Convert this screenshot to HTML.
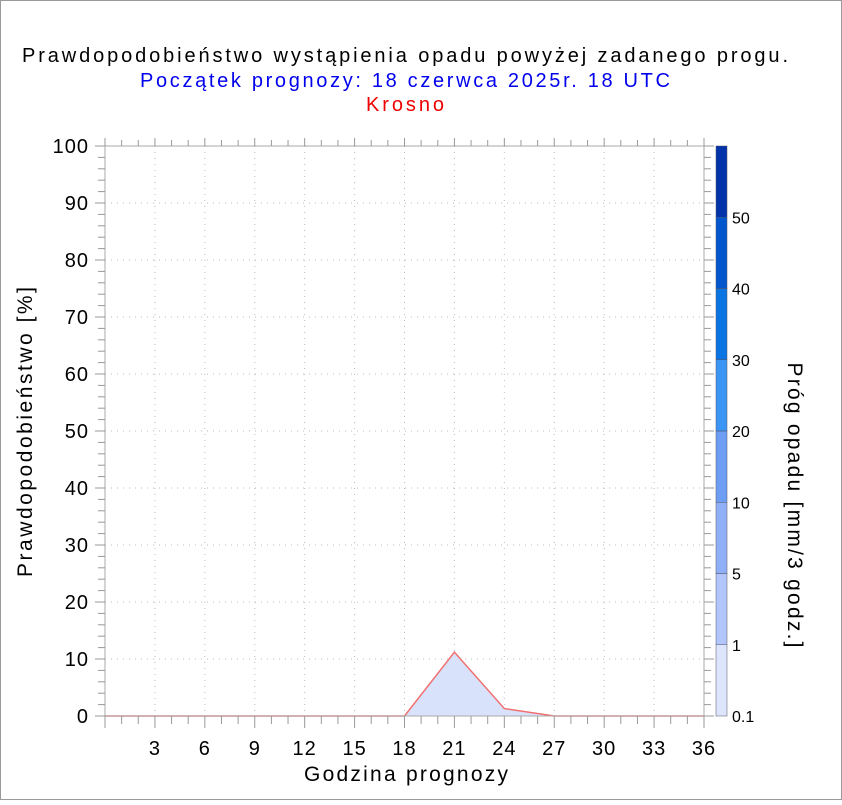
<!DOCTYPE html>
<html><head><meta charset="utf-8"><style>
body{margin:0;background:#fff;}
svg text{font-family:"Liberation Sans",sans-serif;}
</style></head><body>
<svg width="842" height="800" xmlns="http://www.w3.org/2000/svg">
<rect x="0.5" y="0.5" width="841" height="799" fill="#fff" stroke="#999"/>
<text x="405" y="62" font-size="20" text-anchor="middle" textLength="766" lengthAdjust="spacing" fill="#000">Prawdopodobieństwo wystąpienia opadu powyżej zadanego progu.</text>
<text x="405" y="87" font-size="20" text-anchor="middle" textLength="530" lengthAdjust="spacing" fill="#0000ee">Początek prognozy: 18 czerwca 2025r. 18 UTC</text>
<text x="405" y="111" font-size="20" text-anchor="middle" textLength="78" lengthAdjust="spacing" fill="#ee0000">Krosno</text>
<g id="grid"></g><g id="series"></g><g id="axes"></g><g id="cbar"></g>
<text transform="translate(32,432) rotate(-90)" font-size="21" text-anchor="middle" textLength="290" lengthAdjust="spacing">Prawdopodobieństwo [%]</text>
<text x="406" y="781" font-size="21" text-anchor="middle" textLength="204" lengthAdjust="spacing">Godzina prognozy</text>
<text transform="translate(788,505) rotate(90)" font-size="21" text-anchor="middle" textLength="285" lengthAdjust="spacing">Próg opadu [mm/3 godz.]</text>
</svg>
<script>
const hours=[0,3,6,9,12,15,18,21,24,27,30,33,36];
const probs=[0,0,0,0,0,0,0,11.2,1.3,0,0,0,0];
const yTicks=[0,10,20,30,40,50,60,70,80,90,100];
const xTicks=[3,6,9,12,15,18,21,24,27,30,33,36];
const cbLabels=["0.1","1","5","10","20","30","40","50"];
const cbColors=["#dde5fc","#b2c6fb","#8fb0f7","#6d9ef4","#3b95f5","#0a74e3","#0056cc","#0033aa"];
const NS="http://www.w3.org/2000/svg";
const L=105,R=704,T=146,B=716;
const X=h=>L+(h-0)/36*(R-L);
const Y=p=>B-p/100*(B-T);
function mk(tag,at,par){const e=document.createElementNS(NS,tag);for(const k in at)e.setAttribute(k,at[k]);document.getElementById(par).appendChild(e);return e;}
for(const t of yTicks){if(t===0||t===100)continue;const e=mk('line',{x1:L,x2:R,y1:Y(t),y2:Y(t),stroke:'#bbb','stroke-dasharray':'1 5'},'grid');

}
for(const t of xTicks){if(t===36)continue;const e=mk('line',{x1:X(t),x2:X(t),y1:T,y2:B,stroke:'#bbb','stroke-dasharray':'1 5'},'grid');

}
let pts=hours.map((h,i)=>X(h)+','+Y(probs[i])).join(' ');
const area=mk('polygon',{points:X(hours[0])+','+B+' '+pts+' '+X(hours[hours.length-1])+','+B,fill:'#d8e2fb'},'series');


const ln=mk('polyline',{points:pts,fill:'none',stroke:'#f07070','stroke-width':1.5},'series');


const fr=mk('rect',{x:L,y:T,width:R-L,height:B-T,fill:'none',stroke:'#aaa'},'axes');


for(let h=0;h<=36;h++){const big=h%3===0;
const a=mk('line',{x1:X(h),x2:X(h),y1:B,y2:B+(big?12:8),stroke:'#999'},'axes');


const b=mk('line',{x1:X(h),x2:X(h),y1:T,y2:T-(big?8:6),stroke:'#999'},'axes');

}
for(let p=0;p<=100;p+=2){const big=p%10===0;
const a=mk('line',{x1:L,x2:L-(big?10:7),y1:Y(p),y2:Y(p),stroke:'#999'},'axes');


const b=mk('line',{x1:R,x2:R+(big?10:7),y1:Y(p),y2:Y(p),stroke:'#999'},'axes');

}
for(const t of xTicks){const e=mk('text',{x:X(t),y:755,'font-size':20,'letter-spacing':1,'text-anchor':'middle'},'axes');e.textContent=t;

}
for(const t of yTicks){const e=mk('text',{x:89,y:Y(t)+7,'font-size':20,'letter-spacing':1,'text-anchor':'end'},'axes');e.textContent=t;

}
const n=cbColors.length,h=(B-T)/n;
cbColors.forEach((c,i)=>{const r=mk('rect',{x:716,y:B-(i+1)*h,width:11,height:h,fill:c,stroke:'#556',"stroke-width":0.5},'cbar');


const t=mk('text',{x:732,y:B-i*h+6,'font-size':16},'cbar');t.textContent=cbLabels[i];

});
</script>
</body></html>
